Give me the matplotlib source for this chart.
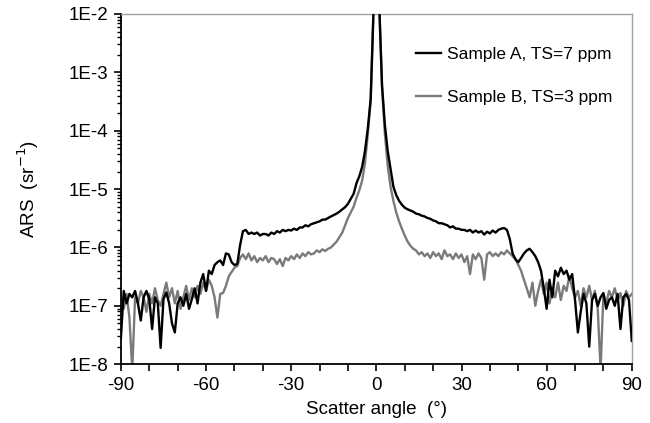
import numpy as np
import matplotlib.pyplot as plt
from matplotlib.ticker import FixedLocator, LogLocator, NullFormatter

plt.rcParams['font.family'] = ['Liberation Sans', 'DejaVu Sans']
plt.rcParams['axes.unicode_minus'] = False

# Scatter angle in degrees, 1 degree steps
angle = np.arange(-90, 91, 1)

# Sample A, TS=7 ppm (sr^-1)
ars_a = [
    2.8e-8, 1.8e-7, 1.1e-7, 1.6e-7, 1.4e-7, 1.8e-7, 1.1e-7, 5.6e-8, 1.4e-7, 1.8e-7,   # -90..-81
    1.3e-7, 4.0e-8, 1.4e-7, 1.1e-7, 1.9e-8, 1.3e-7, 1.7e-7, 1.1e-7, 5.0e-8, 3.5e-8,   # -80..-71
    1.1e-7, 1.4e-7, 1.0e-7, 1.6e-7, 8.9e-8, 1.3e-7, 2.0e-7, 1.1e-7, 2.5e-7, 3.5e-7,   # -70..-61
    1.8e-7, 4.0e-7, 3.5e-7, 5.0e-7, 5.6e-7, 6.0e-7, 5.0e-7, 7.9e-7, 7.6e-7, 5.6e-7,   # -60..-51
    5.0e-7, 5.2e-7, 1.1e-6, 1.9e-6, 2.0e-6, 1.7e-6, 1.8e-6, 1.7e-6, 1.8e-6, 1.6e-6,   # -50..-41
    1.7e-6, 1.7e-6, 1.6e-6, 1.8e-6, 1.7e-6, 1.9e-6, 1.8e-6, 2.0e-6, 1.9e-6, 2.0e-6,   # -40..-31
    1.95e-6, 2.1e-6, 2.0e-6, 2.2e-6, 2.2e-6, 2.4e-6, 2.3e-6, 2.5e-6, 2.6e-6, 2.7e-6,  # -30..-21
    2.8e-6, 3.0e-6, 3.0e-6, 3.2e-6, 3.4e-6, 3.6e-6, 3.8e-6, 4.1e-6, 4.5e-6, 4.9e-6,   # -20..-11
    5.6e-6, 6.8e-6, 8.3e-6, 1.26e-5, 1.66e-5, 2.4e-5, 4.5e-5, 1.1e-4, 3.5e-4, 1.2e-2, # -10..-1
    0.3,                                                                               # 0
    1.5e-2, 6.0e-4, 1.26e-4, 4.5e-5, 2.2e-5, 1.1e-5, 7.9e-6, 6.3e-6, 5.4e-6, 4.8e-6,  # 1..10
    4.5e-6, 4.3e-6, 4.1e-6, 3.8e-6, 3.7e-6, 3.5e-6, 3.4e-6, 3.2e-6, 3.1e-6, 2.9e-6,   # 11..20
    2.8e-6, 2.6e-6, 2.6e-6, 2.5e-6, 2.4e-6, 2.2e-6, 2.3e-6, 2.1e-6, 2.1e-6, 2.0e-6,   # 21..30
    2.0e-6, 1.9e-6, 2.0e-6, 1.8e-6, 1.95e-6, 1.8e-6, 1.9e-6, 1.66e-6, 1.86e-6, 1.74e-6,  # 31..40
    1.95e-6, 1.8e-6, 2.0e-6, 2.1e-6, 2.15e-6, 2.0e-6, 1.4e-6, 7.9e-7, 6.3e-7, 5.6e-7,  # 41..50
    6.6e-7, 7.9e-7, 8.9e-7, 9.5e-7, 8.3e-7, 7.1e-7, 5.6e-7, 4.0e-7, 2.0e-7, 8.9e-8,   # 51..60
    2.8e-7, 1.4e-7, 4.0e-7, 3.2e-7, 4.5e-7, 3.5e-7, 4.0e-7, 2.8e-7, 3.5e-7, 1.26e-7,  # 61..70
    3.5e-8, 7.9e-8, 1.6e-7, 1.1e-7, 2.0e-8, 1.26e-7, 1.6e-7, 1.0e-7, 1.4e-7, 1.66e-7,  # 71..80
    8.9e-8, 1.26e-7, 1.4e-7, 1.0e-7, 1.6e-7, 4.0e-8, 1.4e-7, 1.6e-7, 1.26e-7, 2.5e-8,  # 81..90
]

# Sample B, TS=3 ppm
ars_b = [
    1.4e-7, 8.9e-8, 1.6e-7, 6.3e-8, 8.0e-9, 1.4e-7, 1.1e-7, 1.8e-7, 1.4e-7, 7.9e-8,   # -90..-81
    1.6e-7, 1.1e-7, 2.0e-7, 1.26e-7, 1.0e-7, 1.6e-7, 2.5e-7, 1.4e-7, 2.0e-7, 1.1e-7,  # -80..-71
    1.8e-7, 8.9e-8, 1.4e-7, 2.2e-7, 1.26e-7, 2.0e-7, 1.4e-7, 2.2e-7, 1.6e-7, 2.5e-7,  # -70..-61
    1.8e-7, 2.8e-7, 2.2e-7, 1.4e-7, 6.3e-8, 1.6e-7, 1.66e-7, 2.2e-7, 3.2e-7, 3.8e-7,  # -60..-51
    4.5e-7, 4.8e-7, 6.6e-7, 7.6e-7, 6.3e-7, 7.9e-7, 6.0e-7, 7.1e-7, 5.6e-7, 6.6e-7,   # -50..-41
    6.0e-7, 7.1e-7, 5.6e-7, 6.6e-7, 6.3e-7, 5.2e-7, 6.3e-7, 4.8e-7, 6.6e-7, 6.0e-7,   # -40..-31
    7.1e-7, 6.3e-7, 7.6e-7, 6.6e-7, 7.9e-7, 7.1e-7, 8.3e-7, 7.6e-7, 7.9e-7, 8.9e-7,   # -30..-21
    8.3e-7, 9.3e-7, 8.7e-7, 9.5e-7, 1.0e-6, 1.12e-6, 1.26e-6, 1.5e-6, 1.8e-6, 2.4e-6, # -20..-11
    3.2e-6, 4.0e-6, 5.0e-6, 7.1e-6, 9.5e-6, 1.4e-5, 2.8e-5, 8.9e-5, 3.2e-4, 1.2e-2,   # -10..-1
    0.3,                                                                               # 0
    1.5e-2, 5.6e-4, 8.9e-5, 2.5e-5, 1.1e-5, 6.3e-6, 4.0e-6, 2.8e-6, 2.1e-6, 1.6e-6,   # 1..10
    1.26e-6, 1.07e-6, 9.5e-7, 8.9e-7, 7.6e-7, 8.3e-7, 7.1e-7, 7.9e-7, 6.6e-7, 8.3e-7, # 11..20
    7.1e-7, 7.9e-7, 6.3e-7, 8.9e-7, 7.1e-7, 7.6e-7, 6.3e-7, 7.9e-7, 6.6e-7, 7.6e-7,   # 21..30
    5.6e-7, 7.1e-7, 3.5e-7, 7.6e-7, 6.3e-7, 7.9e-7, 6.6e-7, 2.8e-7, 7.6e-7, 8.3e-7,   # 31..40
    7.1e-7, 7.9e-7, 7.1e-7, 8.3e-7, 7.6e-7, 8.9e-7, 7.9e-7, 7.1e-7, 6.3e-7, 5.0e-7,   # 41..50
    4.0e-7, 2.8e-7, 2.0e-7, 1.4e-7, 2.5e-7, 1.0e-7, 1.8e-7, 2.8e-7, 1.6e-7, 2.5e-7,   # 51..60
    1.1e-7, 2.0e-7, 1.4e-7, 2.5e-7, 1.26e-7, 2.2e-7, 1.8e-7, 3.2e-7, 2.0e-7, 1.4e-7,  # 61..70
    1.8e-7, 1.0e-7, 2.0e-7, 1.4e-7, 2.2e-7, 1.26e-7, 1.8e-7, 8.9e-8, 8.0e-9, 1.6e-7,  # 71..80
    1.1e-7, 1.8e-7, 1.4e-7, 2.0e-7, 1.26e-7, 1.66e-7, 1.0e-7, 1.8e-7, 1.4e-7, 1.6e-7,  # 81..90
]

labels = ['Sample A, TS=7 ppm', 'Sample B, TS=3 ppm']
x_ticks = [-90, -60, -30, 0, 30, 60, 90]
y_ticks = [1e-8, 1e-7, 1e-6, 1e-5, 1e-4, 1e-3, 1e-2]
y_tick_labels = ['1E-8', '1E-7', '1E-6', '1E-5', '1E-4', '1E-3', '1E-2']

fig = plt.figure(figsize=(6.5, 4.23), dpi=100)
ax = fig.add_axes([0.186, 0.139, 0.786, 0.828])

ax.plot(angle, ars_a, color='black', lw=1.7, label=labels[0], zorder=3)
ax.plot(angle, ars_b, color='#7a7a7a', lw=1.7, label=labels[1], zorder=2)

ax.set_yscale('log')
ax.set_xlim(-90, 90)
ax.set_ylim(1e-8, 1e-2)

ax.xaxis.set_major_locator(FixedLocator(x_ticks))
ax.xaxis.set_minor_locator(FixedLocator(np.arange(-90, 91, 10)))
ax.set_yticks(y_ticks)
ax.set_yticklabels(y_tick_labels)
ax.yaxis.set_minor_locator(LogLocator(base=10, subs=np.arange(2, 10)))
ax.yaxis.set_minor_formatter(NullFormatter())

ax.tick_params(axis='both', which='major', direction='out', length=5, width=1.2,
               labelsize=13.5, color='black', pad=4)
ax.tick_params(axis='x', which='minor', direction='out', length=5, width=1.2)
ax.tick_params(axis='y', which='minor', direction='out', length=3, width=1.0)

for side in ['left', 'bottom']:
    ax.spines[side].set_color('black')
    ax.spines[side].set_linewidth(1.3)
for side in ['top', 'right']:
    ax.spines[side].set_color('#a0a0a0')
    ax.spines[side].set_linewidth(1.0)

ax.set_xlabel('Scatter angle  (\u00b0)', fontsize=13.5, labelpad=5)
ax.set_ylabel('ARS  (sr$^{-1}$)', fontsize=13.5, labelpad=20)

ax.legend(loc='upper right', bbox_to_anchor=(0.992, 0.95), frameon=False,
          fontsize=12.5, handlelength=1.4, handletextpad=0.35, labelspacing=1.6)

fig.savefig('out.png', dpi=100)
